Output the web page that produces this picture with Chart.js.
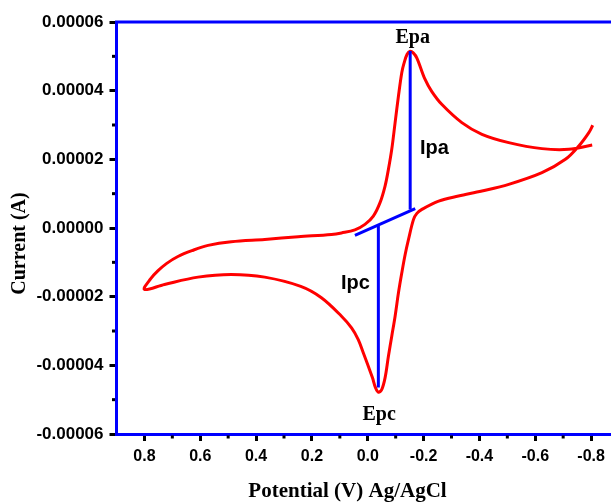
<!DOCTYPE html>
<html><head><meta charset="utf-8">
<script src="https://cdn.jsdelivr.net/npm/chart.js@4/dist/chart.umd.min.js"></script>
<style>
html,body{margin:0;padding:0;overflow:hidden;background:#fff;width:611px;height:503px}
#wrap{position:relative;width:619px;height:503px}
canvas{display:block}
</style></head><body><div id="wrap"><canvas id="c" width="619" height="503"></canvas></div>
<script>
// Cyclic voltammogram (Potential in V vs Ag/AgCl, Current in A), traced in scan order
const potential = [
 -0.804,-0.720,-0.624,-0.505,-0.409,-0.337,-0.265,-0.229,-0.205,-0.176,-0.163,-0.152,
 -0.141,-0.130,-0.122,-0.110,-0.098,-0.086,-0.074,-0.062,-0.044,-0.020,0.010,0.046,0.094,0.130,
 0.249,0.369,0.489,0.572,0.630,0.680,0.720,0.752,0.778,0.800,
 0.728,0.608,0.489,0.369,0.240,0.166,0.094,0.058,0.034,0.016,-0.002,-0.017,-0.028,-0.038,
 -0.050,-0.062,-0.074,-0.086,-0.098,-0.110,-0.122,-0.134,-0.146,-0.164,-0.176,-0.194,-0.254,-0.325,-0.409,
 -0.505,-0.624,-0.708,-0.756,-0.792,-0.806
];
const current = [
 2.417e-5,2.292e-5,2.312e-5,2.487e-5,2.729e-5,3.070e-5,3.603e-5,3.980e-5,4.333e-5,4.950e-5,5.100e-5,5.150e-5,
 5.060e-5,4.800e-5,4.528e-5,3.845e-5,3.070e-5,2.292e-5,1.708e-5,1.222e-5,0.738e-5,0.347e-5,0.105e-5,-0.055e-5,-0.143e-5,-0.187e-5,
 -0.254e-5,-0.332e-5,-0.399e-5,-0.507e-5,-0.660e-5,-0.830e-5,-1.030e-5,-1.250e-5,-1.480e-5,-1.790e-5,
 -1.644e-5,-1.431e-5,-1.353e-5,-1.431e-5,-1.700e-5,-2.030e-5,-2.569e-5,-2.907e-5,-3.248e-5,-3.636e-5,-4.026e-5,-4.364e-5,-4.656e-5,-4.784e-5,
 -4.706e-5,-4.364e-5,-3.735e-5,-3.152e-5,-2.569e-5,-1.886e-5,-1.303e-5,-0.770e-5,-0.332e-5,0.251e-5,0.426e-5,0.542e-5,0.784e-5,0.930e-5,1.076e-5,
 1.271e-5,1.612e-5,2.000e-5,2.388e-5,2.778e-5,2.991e-5
];
// Peak-current construction lines
const ipaLineX = [-0.152,-0.152];
const ipaLineY = [5.157e-5,0.542e-5];
const baseLineX = [0.046,-0.170];
const baseLineY = [-0.216e-5,0.563e-5];
const ipcLineX = [-0.038,-0.038];
const ipcLineY = [0.055e-5,-4.647e-5];
// Annotations
const annoText = ['Epa','Ipa','Ipc','Epc'];
const annoX = [-0.161,-0.187,0.096,-0.041];
const annoY = [5.38e-5,2.146e-5,-1.79e-5,-5.60e-5];
// Axes
const xTicks = [0.8,0.6,0.4,0.2,0.0,-0.2,-0.4,-0.6,-0.8];
const xMinor = [0.7,0.5,0.3,0.1,-0.1,-0.3,-0.5,-0.7];
const yTicks = [-6e-5,-4e-5,-2e-5,0,2e-5,4e-5,6e-5];
const yMinor = [-5e-5,-3e-5,-1e-5,1e-5,3e-5,5e-5];
const xTitle = 'Potential (V) Ag/AgCl';
const yTitle = 'Current (A)';

const pts = (xs, ys) => xs.map((x, i) => ({x, y: ys[i]}));

const extras = {
  id: 'extras',
  afterDraw(chart) {
    const {ctx, chartArea: a, scales: {x, y}} = chart;
    ctx.save();
    // top frame line
    ctx.strokeStyle = '#0000ff';
    ctx.lineWidth = 3;
    ctx.beginPath();
    ctx.moveTo(a.left - 1.5, a.top);
    ctx.lineTo(chart.width, a.top);
    ctx.stroke();
    // minor ticks
    ctx.fillStyle = '#000';
    xMinor.forEach(v => { const px = x.getPixelForValue(v); ctx.fillRect(px - 1.5, a.bottom + 1.5, 3, 3); });
    yMinor.forEach(v => { const py = y.getPixelForValue(v); ctx.fillRect(a.left - 4.5, py - 1.5, 3, 3); });
    // annotations
    annoText.forEach((t, i) => {
      const px = x.getPixelForValue(annoX[i]);
      const py = y.getPixelForValue(annoY[i]);
      if (t.startsWith('E')) {
        ctx.font = 'bold 20px "Liberation Serif", "Times New Roman", serif';
        ctx.textAlign = 'center';
      } else {
        ctx.font = 'bold 20px "Liberation Sans", Arial, sans-serif';
        ctx.textAlign = 'left';
      }
      ctx.textBaseline = 'alphabetic';
      ctx.fillText(t, px, py);
    });
    // axis titles
    ctx.font = 'bold 21px "Liberation Serif", "Times New Roman", serif';
    ctx.textAlign = 'center';
    ctx.textBaseline = 'alphabetic';
    ctx.fillText(xTitle, 347.5, 497);
    ctx.save();
    ctx.translate(25, 243.5);
    ctx.rotate(-Math.PI / 2);
    ctx.font = 'bold 20px "Liberation Serif", "Times New Roman", serif';
    ctx.fillText(yTitle, 0, 0);
    ctx.restore();
    ctx.restore();
  }
};

const xTickFont = {family: '"Liberation Sans", Arial, sans-serif', size: 16, weight: 'bold'};
const yTickFont = {family: '"Liberation Sans", Arial, sans-serif', size: 17, weight: 'bold'};

new Chart(document.getElementById('c'), {
  type: 'scatter',
  data: {
    datasets: [
      {data: pts(ipaLineX, ipaLineY), showLine: true, borderColor: '#0000ff', borderWidth: 3, pointRadius: 0, tension: 0},
      {data: pts(baseLineX, baseLineY), showLine: true, borderColor: '#0000ff', borderWidth: 3, pointRadius: 0, tension: 0},
      {data: pts(ipcLineX, ipcLineY), showLine: true, borderColor: '#0000ff', borderWidth: 3, pointRadius: 0, tension: 0},
      {data: pts(potential, current), showLine: true, borderColor: '#ff0000', borderWidth: 3, pointRadius: 0, tension: 0.35, fill: false}
    ]
  },
  options: {
    responsive: false,
    animation: false,
    layout: {padding: {top: 22, right: 0, left: 0, bottom: 0}},
    plugins: {legend: {display: false}, tooltip: {enabled: false}},
    scales: {
      x: {
        type: 'linear', reverse: true, min: -0.9, max: 0.9,
        afterBuildTicks: s => { s.ticks = xTicks.map(v => ({value: v})); },
        afterFit: s => { s.height = 69; },
        ticks: {color: '#000', font: xTickFont, padding: 6, maxRotation: 0, autoSkip: false,
                callback: v => Number(v).toFixed(1)},
        grid: {drawOnChartArea: false, color: '#000', tickLength: 7, tickWidth: 3, lineWidth: 3},
        border: {color: '#0000ff', width: 3}
      },
      y: {
        type: 'linear', min: -6e-5, max: 6e-5,
        afterBuildTicks: s => { s.ticks = yTicks.map(v => ({value: v})); },
        afterFit: s => { s.width = 116.5; },
        ticks: {color: '#000', font: yTickFont, padding: 6, autoSkip: false,
                callback: v => Number(v).toFixed(5)},
        grid: {drawOnChartArea: false, color: '#000', tickLength: 7, tickWidth: 3, lineWidth: 3},
        border: {color: '#0000ff', width: 3}
      }
    }
  },
  plugins: [extras]
});
</script></body></html>
